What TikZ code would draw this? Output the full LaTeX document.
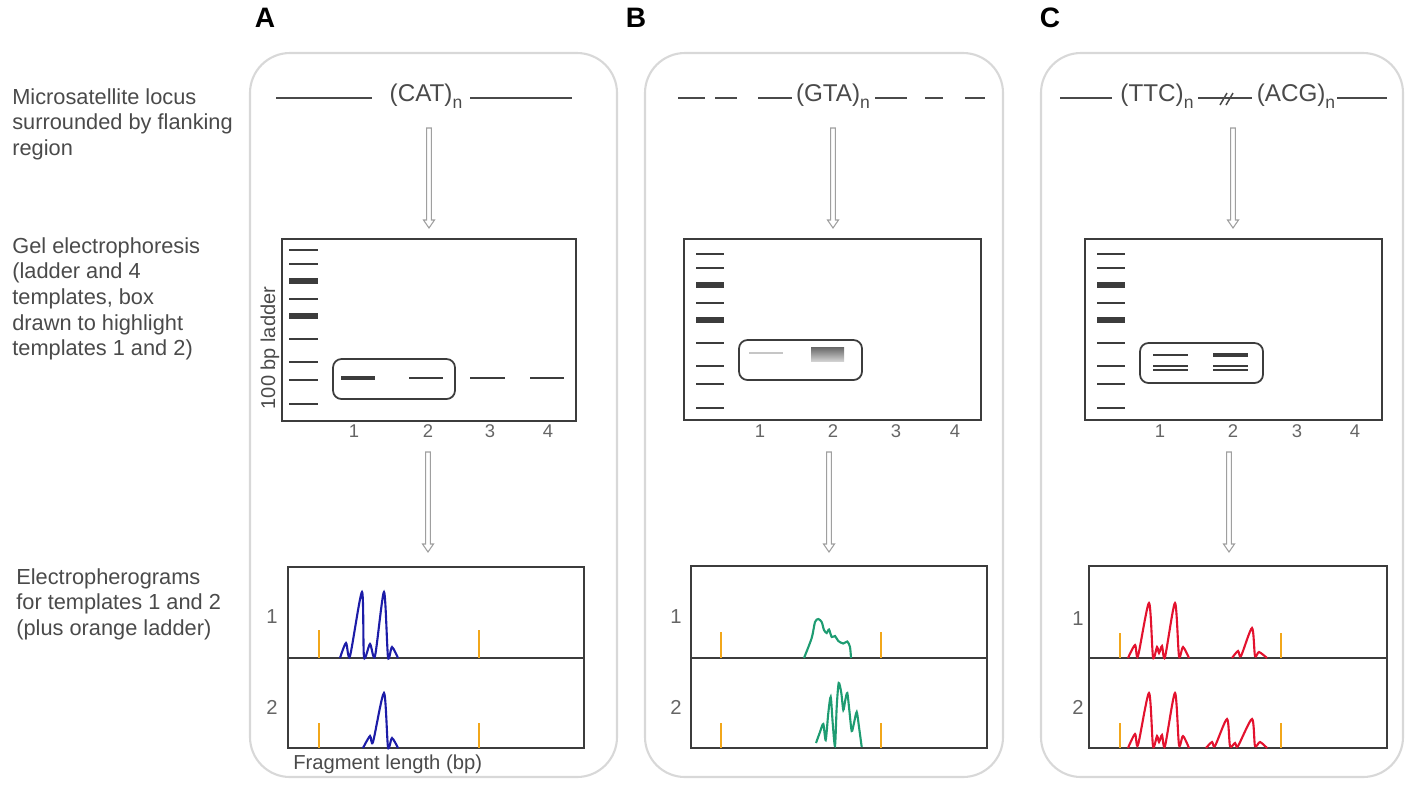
\documentclass[tikz,border=0pt]{standalone}
\usepackage{fontspec}
\setmainfont{Liberation Sans}
\usepackage{tikz}
\usetikzlibrary{calc}

\definecolor{txtgray}{HTML}{4A4A4A}
\definecolor{panelgray}{HTML}{D8D8D8}
\definecolor{gelgray}{HTML}{3C3C3C}
\definecolor{peakblue}{HTML}{1C1CA8}
\definecolor{peakgreen}{HTML}{1E9C72}
\definecolor{peakred}{HTML}{E3122E}
\definecolor{ladderorange}{HTML}{F2A71B}

\tikzset{
  panel/.style={draw=panelgray, line width=1.2pt, rounded corners=0.8cm},
  sidelabel/.style={anchor=north west, align=left, inner sep=0pt, text=txtgray,
    font=\fontsize{12.4}{14.6}\selectfont},
  locus/.style={inner sep=1pt, text=txtgray, font=\fontsize{13.8}{15}\selectfont},
  locusline/.style={txtgray, line width=0.85pt},
  gelbox/.style={draw=gelgray, line width=1pt},
  hlbox/.style={draw=gelgray, line width=1pt, rounded corners=0.17cm},
  lane/.style={text=txtgray!85, font=\fontsize{10.5}{12}\selectfont},
  arrowline/.style={draw=gray!75, line width=0.6pt, fill=white},
  trace/.style={line width=1.2pt, smooth, tension=0.45},
  tick/.style={ladderorange, line width=0.9pt}
}

% repeat count subscript
\newcommand{\rep}{\raisebox{-0.55ex}{\fontsize{10}{10}\selectfont n}}

% hollow arrow between two named points
\newcommand{\hollowarrow}[2]{%
  \draw[arrowline] ($(#1)+(-2.4,0)$) -- ($(#2)+(-2.4,-8)$) -- ($(#2)+(-5.5,-8)$)
    -- (#2) -- ($(#2)+(5.5,-8)$) -- ($(#2)+(2.4,-8)$) -- ($(#1)+(2.4,0)$) -- cycle;}

% ladder lane of a gel: x from, x to, y shift
\newcommand{\ladderlane}[3]{%
  \foreach \yy/\ww in {254/1.6pt, 268/1.6pt, 285/3.4pt, 303/1.6pt, 320/3.4pt,
                       343/1.6pt, 366/1.6pt, 384/1.6pt, 408/1.6pt}
    \draw[gelgray, line width=\ww] (#1,\yy+#3) -- (#2,\yy+#3);}

\begin{document}
\begin{tikzpicture}[x=0.02cm, y=-0.02cm]
\useasboundingbox (0,0) rectangle (1417,789);

% Row labels
\node[sidelabel] (rowlocus) at (12,88) {Microsatellite locus\\surrounded by flanking\\region};
\node[sidelabel] (rowgel) at (12,237) {Gel electrophoresis\\(ladder and 4\\templates, box\\drawn to highlight\\templates 1 and 2)};
\node[sidelabel] (rowepg) at (16,568) {Electropherograms\\for templates 1 and 2\\(plus orange ladder)};

% Panel letters
\node[font=\fontsize{16}{18}\bfseries\selectfont] (labA) at (265,18) {A};
\node[font=\fontsize{16}{18}\bfseries\selectfont] (labB) at (636,18) {B};
\node[font=\fontsize{16}{18}\bfseries\selectfont] (labC) at (1050,18) {C};

% Panel frames
\draw[panel] (250,53) rectangle (617,777);
\draw[panel] (645,53) rectangle (1003,777);
\draw[panel] (1041,53) rectangle (1403,777);

%%%%%%%%%%%% Panel A
% Locus
\node[locus] (catA) at (426,96) {(CAT)\rep};
\draw[locusline] (276,98) -- (372,98);
\draw[locusline] (470,98) -- (572,98);
\coordinate (a1s) at (429,128);
\coordinate (a1e) at (429,228);
\hollowarrow{a1s}{a1e}

% Gel
\draw[gelbox] (282,239) rectangle (576,421);
\ladderlane{289}{318}{-4}
\draw[gelgray, line width=2.6pt] (341,378) -- (375,378);
\draw[gelgray, line width=1.5pt] (409,378) -- (443,378);
\draw[gelgray, line width=1.5pt] (470,378) -- (505,378);
\draw[gelgray, line width=1.5pt] (530,378) -- (564,378);
\draw[hlbox] (333,359) rectangle (455,399);
\node[rotate=90, text=txtgray, font=\fontsize{11.4}{13}\selectfont] (ladA) at (270,348) {100 bp ladder};
\foreach \n/\x in {1/354, 2/428, 3/490, 4/548}
  \node[lane] (laneA\n) at (\x,431) {\n};
\coordinate (a2s) at (428,452);
\coordinate (a2e) at (428,552);
\hollowarrow{a2s}{a2e}

% Electropherograms
\draw[gelbox] (288,567) rectangle (584,748);
\draw[gelbox] (288,658) -- (584,658);
\foreach \x in {319, 479} {
  \draw[tick] (\x,630) -- (\x,658);
  \draw[tick] (\x,723) -- (\x,748);
}
\draw[trace, peakblue] plot coordinates {(340,658) (346,643) (350,656) (362,592) (364,657)
  (370,644) (375,656) (384,592) (388,657) (392,647) (398,658)};
\draw[trace, peakblue] plot coordinates {(363,748) (370,736) (373,742) (384,693) (388,747)
  (392,738) (398,748)};
\node[lane, font=\fontsize{11.5}{13}\selectfont] (epA1) at (272,617) {1};
\node[lane, font=\fontsize{11.5}{13}\selectfont] (epA2) at (272,707) {2};
\node[anchor=west, inner sep=0pt, text=txtgray, font=\fontsize{11.5}{13}\selectfont] (fragA) at (293,764) {Fragment length (bp)};

%%%%%%%%%%%% Panel B
% Locus
\node[locus] (gtaB) at (833,96) {(GTA)\rep};
\draw[locusline] (678,98) -- (705,98);
\draw[locusline] (715,98) -- (737,98);
\draw[locusline] (758,98) -- (792,98);
\draw[locusline] (875,98) -- (907,98);
\draw[locusline] (925,98) -- (943,98);
\draw[locusline] (965,98) -- (985,98);
\coordinate (b1s) at (833,128);
\coordinate (b1e) at (833,228);
\hollowarrow{b1s}{b1e}

% Gel
\draw[gelbox] (684,239) rectangle (981,420);
\ladderlane{696}{724}{0}
\draw[gray!45, line width=1.4pt] (749,353) -- (783,353);
\shade[top color=black!60, bottom color=black!18] (811,347) rectangle (844,361);
\draw[hlbox] (739,340) rectangle (862,380);
\foreach \n/\x in {1/760, 2/833, 3/896, 4/955}
  \node[lane] (laneB\n) at (\x,431) {\n};
\coordinate (b2s) at (829,452);
\coordinate (b2e) at (829,552);
\hollowarrow{b2s}{b2e}

% Electropherograms
\draw[gelbox] (691,566) rectangle (987,748);
\draw[gelbox] (691,658) -- (987,658);
\foreach \x in {721, 881} {
  \draw[tick] (\x,632) -- (\x,658);
  \draw[tick] (\x,723) -- (\x,748);
}
\draw[trace, peakgreen] plot coordinates {(804,658) (811.7,638) (815,622) (818.3,619)
  (821.7,622) (824,630) (826.7,633) (829,629.5) (831.7,637) (835,636) (838.3,641)
  (843.3,643.5) (847.3,641.5) (850,647) (851,658)};
\draw[trace, peakgreen] plot coordinates {(816,743) (820,732) (823.3,724) (825.7,740)
  (828.3,713) (830.7,697) (832.7,723) (835,746) (836.7,707) (838.7,683) (841.3,693)
  (843.3,710) (845.3,700) (847.3,693) (849.3,710) (851.7,731) (854,723) (856.7,712)
  (859,727) (861.7,747)};
\node[lane, font=\fontsize{11.5}{13}\selectfont] (epB1) at (676,617) {1};
\node[lane, font=\fontsize{11.5}{13}\selectfont] (epB2) at (676,707) {2};

%%%%%%%%%%%% Panel C
% Locus
\node[locus] (ttcC) at (1157,96) {(TTC)\rep};
\node[locus] (acgC) at (1296,96) {(ACG)\rep};
\draw[locusline] (1060,98) -- (1112,98);
\draw[locusline] (1198,98) -- (1252,98);
\draw[locusline] (1337,98) -- (1387,98);
\draw[locusline] (1220,105) -- (1227,93);
\draw[locusline] (1226,105) -- (1233,93);
\coordinate (c1s) at (1233,128);
\coordinate (c1e) at (1233,228);
\hollowarrow{c1s}{c1e}

% Gel
\draw[gelbox] (1085,239) rectangle (1382,420);
\ladderlane{1097}{1125}{0}
\foreach \y in {355, 366, 370}
  \draw[gelgray, line width=1.1pt] (1153,\y) -- (1188,\y);
\draw[gelgray, line width=2pt] (1213,355) -- (1248,355);
\foreach \y in {366, 370}
  \draw[gelgray, line width=1.1pt] (1213,\y) -- (1248,\y);
\draw[hlbox] (1140,343) rectangle (1263,383);
\foreach \n/\x in {1/1160, 2/1233, 3/1297, 4/1355}
  \node[lane] (laneC\n) at (\x,431) {\n};
\coordinate (c2s) at (1229,452);
\coordinate (c2e) at (1229,552);
\hollowarrow{c2s}{c2e}

% Electropherograms
\draw[gelbox] (1089,566) rectangle (1387,748);
\draw[gelbox] (1089,658) -- (1387,658);
\foreach \x in {1120, 1281} {
  \draw[tick] (\x,633) -- (\x,658);
  \draw[tick] (\x,723) -- (\x,748);
}
\draw[trace, peakred] plot coordinates {(1128,658) (1135,645) (1138,656) (1149,603) (1153,657)
  (1157,647) (1159,653) (1162,646) (1165,657) (1175,603) (1179,656) (1183,647) (1189,658)};
\draw[trace, peakred] plot coordinates {(1232,658) (1238,651) (1241,656) (1252,628) (1255,656)
  (1259,652) (1267,658)};
\draw[trace, peakred] plot coordinates {(1128,748) (1135,734) (1138,745) (1149,693) (1153,746)
  (1157,736) (1159,742) (1162,735) (1165,746) (1175,693) (1179,745) (1183,736) (1189,748)};
\draw[trace, peakred] plot coordinates {(1206,748) (1212,742) (1215,746) (1227,719) (1230,746)
  (1235,743) (1238,746) (1252,719) (1255,746) (1260,742) (1267,748)};
\node[lane, font=\fontsize{11.5}{13}\selectfont] (epC1) at (1078,619) {1};
\node[lane, font=\fontsize{11.5}{13}\selectfont] (epC2) at (1078,707) {2};
\end{tikzpicture}
\end{document}
